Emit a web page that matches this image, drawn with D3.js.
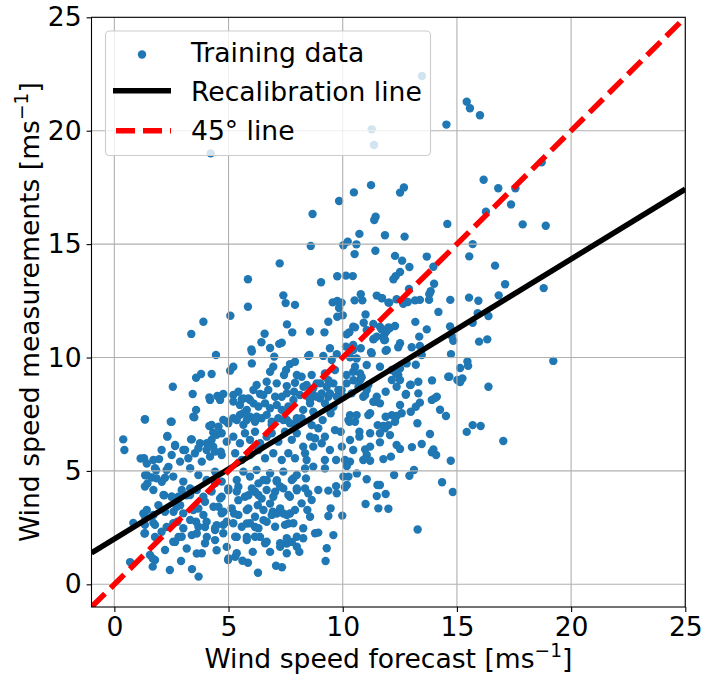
<!DOCTYPE html>
<html>
<head>
<meta charset="utf-8">
<script src="https://cdn.jsdelivr.net/npm/d3@7"></script>
<style>
  html, body { margin: 0; padding: 0; background: #fff; }
  svg { display: block; }
  text { font-family: "DejaVu Sans", sans-serif; }
</style>
</head>
<body>
<script>
// ---- data ----
const xTicks = [0, 5, 10, 15, 20, 25];
const yTicks = [0, 5, 10, 15, 20, 25];
const xDomain = [-1, 25];
const yDomain = [-1, 25];
const recalIntercept = 2.0;
const recalSlope = 0.617;
const legendLabels = ["Training data", "Recalibration line", "45° line"];

const pointsLow = [
[0.69,0.98],[1.68,0.78],[1.78,1.07],[2.43,0.63],[2.92,1.03],[3.40,0.67],[3.69,0.34],[4.98,1.07],[5.61,1.04],[5.85,0.95],[6.29,0.51],[7.08,0.82],[7.34,0.75],[9.25,1.03],
[1.56,1.29],[2.22,1.51],[3.83,1.37],[5.36,1.37],[6.6,1.81],[7.55,1.37],[7.99,1.66],
[1.15,5.55],[1.42,5.33],[1.35,4.81],[1.45,4.45],[1.64,4.71],[1.96,5.52],[1.83,5.03],[2.08,4.52],[2.37,5.18],[2.22,4.7],[2.51,3.86],[2.18,3.93],[1.93,3.49],[1.27,3.12],[1.35,2.98],[0.83,2.71],[1.71,2.71],[1.78,2.09],[1.32,2.24],[1.68,1.14],
[2.81,2.09],[3.17,1.58],[3.61,1.36],[2.66,1.87],[2.29,2.53],[2.76,2.76],[2.59,3.2],[2.88,3.49],[2.8,3.86],[3.17,3.93],[3.32,4.23],[3.68,3.34],[3.97,3.64],[3.58,2.76],[3.97,2.53],[3.61,2.24],[4.05,2.09],[4.48,1.5],[4.41,2.39],[4.92,1.65],[5.29,1.21],[5.0,1.14],[6.06,1.43],[6.82,1.43],[7.26,1.65],[7.55,1.8],[7.77,1.87],[7.62,2.68],[7.11,3.12],[7.4,3.12],[7.69,3.12],[6.82,3.56],[6.94,3.2],[6.53,2.83],[6.16,2.53],[6.38,2.09],[5.8,2.09],[5.36,2.09],[5.8,2.68],[5.24,3.12],[4.92,2.76],[4.48,2.61],[4.78,3.2],[4.56,3.42],[5.43,3.71],[5.87,3.34],[6.28,3.49],[6.45,3.78],[5.87,3.93],[6.16,4.08],[5.43,4.3],[4.99,4.15],[4.7,3.86],[4.41,4.45],[7.69,3.86],[7.99,4.15],[7.4,4.23],[7.04,4.08],[7.11,4.59],[6.67,4.59],[6.31,4.45],[7.84,4.67],[8.1,1.43]
];

const pointsCore = [
[4.19,8.13],[4.63,8.13],[5.21,8.06],[5.5,7.91],[5.8,7.69],[6.09,7.98],[6.31,7.84],[6.6,7.98],[6.82,7.76],[7.11,7.91],[7.33,7.69],[7.62,7.84],[7.84,8.13],
[1.34,7.28],[2.51,7.17],[3.46,7.39],[4.26,7.03],[4.56,6.95],[4.77,7.25],[4.99,7.1],[5.21,7.32],[5.5,7.47],[5.65,7.03],[5.94,7.39],[6.16,7.17],[6.45,7.32],[6.67,7.47],[6.89,7.03],[7.18,7.32],[7.55,7.25],[7.91,7.1],
[2.32,6.54],[2.66,6.14],[3.02,5.92],[3.39,6.39],[3.75,6.22],[4.04,5.92],[4.26,6.37],[4.48,6.59],[4.7,6.66],[4.92,6.29],[5.21,6.51],[5.5,6.22],[5.72,6.66],[5.94,6.37],[6.16,6.73],[6.38,6.22],[6.67,6.51],[6.89,6.66],[7.18,6.29],[7.47,6.73],[7.77,6.37],[7.99,6.66],
[1.3,5.56],[1.71,5.48],[2.07,5.92],[2.51,5.7],[2.88,5.41],[3.24,5.56],[3.53,5.78],[3.83,5.41],[4.19,5.63],[4.41,5.85],[4.7,5.7],[5.29,5.78],[5.58,5.48],[5.94,5.7],[6.31,5.92],[6.6,5.56],[6.96,5.78],[7.33,5.48],[7.62,5.78],[7.91,5.56],
[1.78,5.12],[1.42,4.82],[1.85,4.67],[2.29,5.04],[2.58,4.75],[3.02,4.53],[3.32,5.12],[3.68,4.82],[4.04,4.6],[4.41,4.97],[4.7,4.53],[5.36,4.6],[5.65,4.97],[5.94,4.75],[6.23,5.04],[6.53,4.6],[6.82,4.9],[7.11,4.53],[7.4,4.97],[7.77,4.6],[7.99,4.82],
[1.34,4.31],[1.71,4.16],[2.15,3.94],[2.51,3.86],[2.95,4.16],[3.32,3.94],[3.61,4.16],[3.9,3.86],[4.26,4.09],[4.63,3.79],[4.99,4.23],[5.36,4.09],[5.72,3.86],[6.02,4.23],[6.31,3.94],[6.67,4.16],[6.96,3.86],[7.26,4.31],[7.62,3.94],[7.99,4.23],
[1.42,3.28],[1.71,3.06],[2.22,3.2],[2.73,3.42],[3.02,3.13],[3.46,3.28],[3.9,3.06],[4.34,3.42],[4.7,3.13],[5.14,3.35],[5.43,3.06],[5.8,3.28],[6.16,2.98],[6.53,3.28],[6.89,3.06],[7.26,3.35],[7.55,3.06],[7.91,3.28],
[1.34,2.62],[1.78,2.62],[2.58,2.69],[3.02,2.47],[3.32,2.84],[3.68,2.54],[4.04,2.76],[4.41,2.47],[4.77,2.62],[5.21,2.69],[5.58,2.54],[5.94,2.69],[6.31,2.47],[6.67,2.76],[7.04,2.54],[7.47,2.62],[7.84,2.69],
[1.34,2.25],[2.07,2.32],[2.58,1.88],[2.95,2.1],[3.39,2.17],[3.97,1.81],[4.41,1.95],[4.77,2.25],[5.29,2.1],[5.8,1.95],[6.16,2.1],[6.67,1.88],[7.26,1.81],[7.55,2.03],[7.99,2.1]
];

const pointsMid = [
[6.02,10.26],[7.0,10.04],[4.45,10.11],[6.02,9.74],[5.21,9.59],[5.07,9.42],[6.96,9.59],[6.82,9.37],[7.69,9.71],[7.91,9.81],[7.52,9.45],[7.43,9.23],[7.99,9.23],[7.11,8.86],[7.55,8.74],[7.91,8.89],[7.55,8.42],[7.87,8.49],[6.74,8.57],[6.23,8.79],[6.09,8.57],[6.38,8.39],[7.04,8.27],[4.26,9.27],[3.8,9.27],[3.58,9.11],[2.56,8.71],[3.43,8.39],[4.16,8.24],[4.51,8.3],[4.77,8.39],[5.65,8.2],[5.87,8.2],
[8.54,10.11],[9.74,10.15],[10.46,10.55],[11.27,10.18],[8.64,9.23],[9.22,9.3],[9.66,9.45],[10.76,9.01],[11.12,8.79],
[5.21,8.35],[5.43,8.49],[5.58,8.16],[5.94,8.13],[6.52,8.35],[6.67,8.93],[7.33,8.27],[8.13,8.35],[8.57,7.98],[8.71,8.35],[9.0,8.2],[9.37,8.27],[9.81,8.57],[10.39,8.42],[10.9,8.27],[11.34,8.05],
[1.34,7.27],[2.47,7.17],[3.58,7.69],[3.5,7.36],[0.39,6.39],[0.44,5.92],[2.32,6.51],[3.36,6.39],[2.66,6.1],[3.1,5.92],[3.68,6.0],[4.16,6.98],[4.33,6.69],[4.05,6.22],[4.33,6.07],[4.66,5.85],[4.92,7.17],[5.36,7.24],[5.65,7.54],[5.8,7.24],[6.23,7.39],[6.89,7.17],[7.4,7.24],[7.69,7.1],[7.99,7.32],[8.64,7.02],[9.66,6.8],[10.25,7.24],
[10.46,11.36],[11.7,11.24],[12.0,11.33],[11.85,11.07],[11.34,10.8],[11.49,10.92],[11.24,10.23],[11.93,10.33],[10.46,10.33],[9.15,10.07],[8.49,10.07],[9.52,9.89],[10.32,10.01],[10.61,9.96],[11.05,9.67],[10.54,9.59],[10.46,9.37],[10.76,9.3],[10.83,9.13],[10.17,9.23],[9.59,8.86],[9.3,8.71],[8.86,8.86],[9.08,8.42],[8.71,8.64],[8.42,8.79],[8.2,9.15],[11.63,9.59],[12.15,9.45],[12.43,9.23],[12.15,9.01],[12.95,8.79],[14.12,8.27],[12.77,8.39],[12.36,8.71],[15.02,9.01],[14.62,9.15],[11.05,8.57],[10.98,8.35],[11.49,8.27],
[8.28,8.71],[9.01,8.86],[9.37,9.0],[8.49,8.27],[8.86,8.27],[9.44,8.42],[9.74,8.27],[9.95,8.56],[10.17,8.86],[10.47,9.0],[10.69,8.71],[10.03,8.27]
];

const pointsRight = [
[8.57,8.13],[9.22,7.98],[9.59,7.83],[8.27,7.69],[8.71,7.61],[9.47,7.54],[8.2,7.32],[9.12,7.24],[10.32,7.46],[10.61,7.46],[10.29,7.17],[10.54,7.17],[11.12,7.46],[11.2,7.54],[11.49,8.05],[12.0,7.02],[11.53,7.02],[11.2,6.66],[10.73,6.73],[10.73,6.51],[10.32,6.36],[9.91,6.73],[9.96,6.07],[10.46,5.92],[10.98,5.95],[11.2,6.07],[11.05,5.7],[10.9,5.48],[11.2,5.45],[10.1,5.48],[10.32,5.41],[10.18,5.22],[10.25,4.75],[10.03,4.75],[10.18,4.38],[10.1,4.28],[11.05,4.63],[11.52,4.38],[11.49,3.89],[11.0,3.54],[11.56,3.35],[9.71,4.33],[9.37,4.13],[9.74,4.01],[9.47,3.35],[9.98,3.03],[9.37,3.01],[8.93,4.16],[8.39,4.67],[8.35,4.23],[8.49,4.01],[8.64,3.72],[8.45,3.28],[8.2,3.57],[8.57,2.98],[8.27,2.47],[8.79,2.25],[8.93,2.28],[9.59,2.17],[8.27,2.03],[9.3,1.59],[9.22,6.51],[9.71,5.48],[9.22,5.48],[8.71,6.07],[8.42,5.48],[8.71,5.19],[9.22,5.11],[8.35,5.11],[8.79,6.44],[8.93,6.88],[8.57,6.51],[9.08,6.22],[8.27,6.07],[9.44,5.92],[8.35,5.78],[10.62,4.89],
[19.22,9.85],[11.88,10.3],[13.46,10.11],[14.74,10.15],[15.46,9.82],[15.49,9.63],[15.14,9.54],[15.24,9.08],[15.14,8.92],[16.38,8.71],[14.67,9.15],[13.2,9.68],[12.8,9.74],[12.51,9.52],[12.33,9.3],[12.51,9.01],[12.98,8.8],[13.31,8.93],[13.91,8.99],[11.88,8.49],[12.76,8.36],[13.31,8.42],[13.9,8.13],[14.04,8.21],[14.26,7.7],[14.52,7.42],[13.38,8.01],[13.2,7.83],[12.51,7.91],[12.98,7.61],[11.63,7.98],[12.58,7.54],[12.36,7.42],[12.15,7.46],[11.88,7.39],[12.29,7.17],[11.78,6.98],[11.85,6.88],[11.63,6.66],[12.07,6.58],[13.27,7.1],[13.82,6.63],[13.46,6.19],[13.03,6.05],[12.36,6.14],[12.51,5.97],[11.63,6.26],[13.97,5.95],[13.9,5.82],[14.09,5.7],[14.73,5.45],[11.78,5.52],[12.11,5.63],[13.12,5.04],[12.92,4.79],[12.25,4.82],[14.35,4.5],[14.82,4.07],[11.88,3.98],[11.63,4.38],[12.0,3.33],[13.28,2.42],[15.43,6.72],[15.69,7.02],[16.04,6.98],[17.03,6.32]
];

const pointsHigh = [
[13.47,22.41],[11.27,20.06],[11.37,19.37],[4.22,19.0],[11.24,17.6],[10.49,17.28],[9.84,16.9],[8.68,16.33],[11.44,16.21],[11.38,16.06],[10.73,15.45],[11.85,15.39],[8.6,14.92],[10.03,14.95],[10.22,15.11],[10.6,14.99],[10.52,14.56],[11.43,14.71],[7.24,14.15],[5.85,13.45],[9.05,13.32],[9.76,13.58],[10.14,13.61],[10.44,13.59],[7.4,12.74],[7.5,12.4],[7.91,12.32],[5.85,12.24],[5.08,11.84],[3.9,11.58],[3.37,11.04],[9.56,12.43],[9.76,12.49],[9.95,12.42],[9.84,12.18],[10.52,12.52],[10.79,12.79],[10.86,12.52],[11.49,12.73],[11.72,12.62],[12.0,12.42],[11.0,11.9],[9.76,11.8],[10.0,11.86],[9.37,11.58],[7.56,11.46],[7.79,11.11],[8.57,11.15],[9.2,11.11],[6.58,11.05],[6.44,10.67],[7.22,10.6],[7.33,10.65],[6.82,10.42],[6.0,10.36],[10.17,11.02],[10.29,11.11],[10.54,11.33],[10.92,11.53],[11.05,11.21],[11.34,11.48],[11.63,11.36],[11.37,10.83],[11.93,11.18],[11.81,10.77],[10.79,10.41],[10.14,10.48],[9.44,10.41],
[15.43,21.28],[15.57,20.99],[16.01,20.68],[14.54,20.27],[18.71,18.61],[16.17,17.84],[16.81,17.46],[17.56,17.46],[17.37,16.75],[16.27,16.43],[17.88,15.87],[18.89,15.81],[12.51,17.27],[12.68,17.5],[14.58,15.89],[12.71,15.33],[15.69,15.0],[15.54,14.46],[12.29,14.48],[12.6,14.27],[13.68,14.45],[12.92,13.99],[12.51,13.77],[12.32,13.59],[12.22,13.45],[13.97,14.0],[16.67,14.05],[14.0,13.25],[17.11,13.23],[18.8,13.06],[12.9,13.02],[13.85,12.92],[13.79,12.79],[13.78,12.54],[13.38,12.54],[13.17,12.52],[12.85,12.45],[12.65,12.37],[12.04,12.42],[11.71,12.61],[12.36,12.57],[14.71,12.54],[15.53,12.64],[15.94,12.5],[16.83,12.74],[14.19,12.01],[15.91,11.95],[16.38,11.83],[15.69,11.53],[13.18,11.57],[14.7,11.37],[13.68,11.24],[12.29,11.39],[12.07,11.3],[11.85,11.21],[11.78,10.92],[11.85,10.77],[13.35,10.92],[14.77,10.95],[14.84,10.74],[15.97,10.7],[16.33,10.8],[12.51,10.63],[12.43,10.45],[13.02,10.45],[13.38,10.51]
];

const trainingPoints = [].concat(pointsLow, pointsCore, pointsMid, pointsRight, pointsHigh);

// ---- drawing ----
(function () {
const W = 704, H = 676;
const pL = 91.5, pR = 685.3, pT = 17.3, pB = 607;
const FS = 26.6;

const svg = d3.select("body").append("svg").attr("width", W).attr("height", H);

const x = d3.scaleLinear().domain(xDomain).range([pL, pR]);
const y = d3.scaleLinear().domain(yDomain).range([pB, pT]);

svg.append("defs").append("clipPath").attr("id", "clip")
  .append("rect").attr("x", pL).attr("y", pT).attr("width", pR - pL).attr("height", pB - pT);

const plot = svg.append("g").attr("clip-path", "url(#clip)");

// scatter
plot.append("g").selectAll("circle").data(trainingPoints).join("circle")
  .attr("cx", d => x(d[0])).attr("cy", d => y(d[1])).attr("r", 4.2)
  .attr("fill", "#1f77b4");

// grid (above scatter, as in matplotlib default)
const grid = plot.append("g").attr("stroke", "#b0b0b0").attr("stroke-width", 1.1);
xTicks.forEach(t => grid.append("line").attr("x1", x(t)).attr("x2", x(t)).attr("y1", pT).attr("y2", pB));
yTicks.forEach(t => grid.append("line").attr("y1", y(t)).attr("y2", y(t)).attr("x1", pL).attr("x2", pR));

// recalibration line
const lineGen = d3.line().x(d => x(d[0])).y(d => y(d[1]));
const recal = xDomain.map(v => [v, recalIntercept + recalSlope * v]);
plot.append("path").attr("d", lineGen(recal)).attr("stroke", "#000").attr("stroke-width", 5.5).attr("fill", "none");

// 45 degree line
const diag = xDomain.map(v => [v, v]);
plot.append("path").attr("d", lineGen(diag)).attr("stroke", "#ff0000").attr("stroke-width", 5.5)
  .attr("stroke-dasharray", "19,8").attr("fill", "none");

// axes
const xAxis = d3.axisBottom(x).tickValues(xTicks).tickSizeInner(4.9).tickSizeOuter(0).tickPadding(4.9);
const yAxis = d3.axisLeft(y).tickValues(yTicks).tickSizeInner(4.9).tickSizeOuter(0).tickPadding(4.9);
const gx = svg.append("g").attr("transform", `translate(0,${pB})`).call(xAxis);
const gy = svg.append("g").attr("transform", `translate(${pL},0)`).call(yAxis);
[gx, gy].forEach(g => {
  g.select(".domain").remove();
  g.selectAll(".tick line").attr("stroke", "#000").attr("stroke-width", 1.1);
  g.selectAll(".tick text").attr("font-size", FS).attr("fill", "#000").attr("font-family", "DejaVu Sans");
});

// frame
svg.append("rect").attr("x", pL).attr("y", pT).attr("width", pR - pL).attr("height", pB - pT)
  .attr("fill", "none").attr("stroke", "#000").attr("stroke-width", 1.1);

// axis labels
const xl = svg.append("text").attr("x", (pL + pR) / 2).attr("y", 668.3).attr("text-anchor", "middle")
  .attr("font-size", FS).attr("fill", "#000");
xl.append("tspan").text("Wind speed forecast [ms");
xl.append("tspan").attr("dy", -11).attr("font-size", FS * 0.7).text("\u22121");
xl.append("tspan").attr("dy", 11).text("]");

const yl = svg.append("text").attr("transform", `translate(38.5,${(pT + pB) / 2}) rotate(-90)`)
  .attr("text-anchor", "middle").attr("font-size", FS).attr("fill", "#000");
yl.append("tspan").text("Wind speed measurements [ms");
yl.append("tspan").attr("dy", -11).attr("font-size", FS * 0.7).text("\u22121");
yl.append("tspan").attr("dy", 11).text("]");

// legend
const lg = svg.append("g");
lg.append("rect").attr("x", 105.5).attr("y", 31).attr("width", 325).attr("height", 124.5).attr("rx", 4)
  .attr("fill", "#fff").attr("fill-opacity", 0.8).attr("stroke", "#cccccc").attr("stroke-width", 1.1);
const baselines = [61.7, 100.9, 140];
const handleY = [54.5, 90.7, 130.7];
lg.append("circle").attr("cx", 142).attr("cy", handleY[0]).attr("r", 4.2).attr("fill", "#1f77b4");
lg.append("line").attr("x1", 113).attr("x2", 171).attr("y1", handleY[1]).attr("y2", handleY[1])
  .attr("stroke", "#000").attr("stroke-width", 5.5);
lg.append("line").attr("x1", 116).attr("x2", 171).attr("y1", handleY[2]).attr("y2", handleY[2])
  .attr("stroke", "#ff0000").attr("stroke-width", 5.5).attr("stroke-dasharray", "19,8");
legendLabels.forEach((t, i) => {
  lg.append("text").attr("x", 191).attr("y", baselines[i])
    .attr("font-size", FS).attr("fill", "#000").text(t);
});
})();
</script>
</body>
</html>
